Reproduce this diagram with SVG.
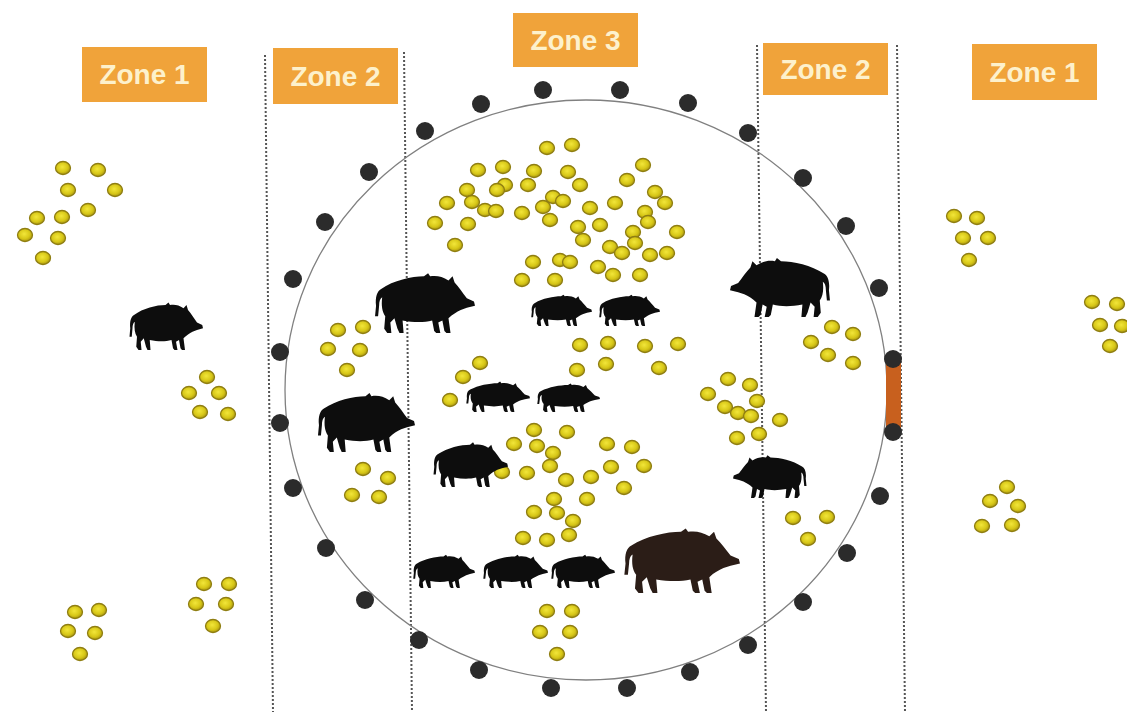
<svg xmlns="http://www.w3.org/2000/svg" xmlns:xlink="http://www.w3.org/1999/xlink" width="1127" height="712" viewBox="0 0 1127 712">
  <style>
    .zone-box { fill: #F0A33A; }
    .zone-text { fill: #FDF1CC; font-family: "Liberation Sans", Arial, sans-serif; font-weight: bold; font-size: 28px; text-anchor: middle; }
    .divider { stroke: #555; stroke-width: 2; stroke-dasharray: 2 2; fill: none; }
    .fence { fill: none; stroke: #808080; stroke-width: 1.3; }
    .post { fill: #2b2b2b; }
    .gate { fill: #C8601E; }
    .boar { fill: #0d0d0d; }
    .boar-big { fill: #2B1D17; }
  </style>
  <defs>
    <radialGradient id="acornFill" cx="0.45" cy="0.42" r="0.6">
      <stop offset="0" stop-color="#F2E63A"/>
      <stop offset="0.6" stop-color="#D8C818"/>
      <stop offset="1" stop-color="#A89510"/>
    </radialGradient>
    <ellipse id="ac" cx="0" cy="0" rx="7.5" ry="6.5" fill="url(#acornFill)" stroke="#8F7E12" stroke-width="1.3"/>
    <!-- boar silhouette, facing right, 100 x 60 box -->
    <symbol id="boar" viewBox="0 0 100 60" preserveAspectRatio="none">
      <path d="M8,18 C4,20 2,26 3,34 L2,44 L5,44 L6,34 C6,30 7,27 9,26 C8,34 9,40 12,44 L11,56 L14,60 L18,60 L17,50 L21,46 L24,56 L26,60 L30,60 L29,48 C40,50 50,50 58,48 L60,58 L62,60 L66,60 L64,50 L68,48 L70,58 L72,60 L76,60 L74,46 C78,42 82,40 86,38 L92,36 L100,34 L99,30 L92,27 C88,22 84,16 80,12 L78,6 L74,10 C68,6 62,5 56,6 L54,3 L50,6 C38,6 20,10 8,18 Z"/>
    </symbol>
  </defs>

  <rect width="1127" height="712" fill="#ffffff"/>

  <!-- zone dividers -->
  <g id="dividers">
    <line class="divider" x1="265" y1="55" x2="273" y2="712"/>
    <line class="divider" x1="404" y1="52" x2="412" y2="712"/>
    <line class="divider" x1="757" y1="45" x2="766" y2="712"/>
    <line class="divider" x1="897" y1="45" x2="905" y2="712"/>
  </g>

  <!-- enclosure fence with posts and gate -->
  <g id="enclosure">
    <ellipse class="fence" cx="586" cy="390" rx="301" ry="290"/>
    <rect class="gate" x="886" y="362" width="15" height="66"/>
    <g class="post">
      <circle cx="481" cy="104" r="9"/>
      <circle cx="543" cy="90" r="9"/>
      <circle cx="620" cy="90" r="9"/>
      <circle cx="688" cy="103" r="9"/>
      <circle cx="748" cy="133" r="9"/>
      <circle cx="803" cy="178" r="9"/>
      <circle cx="846" cy="226" r="9"/>
      <circle cx="879" cy="288" r="9"/>
      <circle cx="893" cy="359" r="9"/>
      <circle cx="893" cy="432" r="9"/>
      <circle cx="880" cy="496" r="9"/>
      <circle cx="847" cy="553" r="9"/>
      <circle cx="803" cy="602" r="9"/>
      <circle cx="748" cy="645" r="9"/>
      <circle cx="690" cy="672" r="9"/>
      <circle cx="627" cy="688" r="9"/>
      <circle cx="551" cy="688" r="9"/>
      <circle cx="479" cy="670" r="9"/>
      <circle cx="419" cy="640" r="9"/>
      <circle cx="365" cy="600" r="9"/>
      <circle cx="326" cy="548" r="9"/>
      <circle cx="293" cy="488" r="9"/>
      <circle cx="280" cy="423" r="9"/>
      <circle cx="280" cy="352" r="9"/>
      <circle cx="293" cy="279" r="9"/>
      <circle cx="325" cy="222" r="9"/>
      <circle cx="369" cy="172" r="9"/>
      <circle cx="425" cy="131" r="9"/>
    </g>
  </g>

  <!-- zone labels -->
  <g id="zone1-left">
    <rect class="zone-box" x="82" y="47" width="125" height="55"/>
    <text class="zone-text" x="144.5" y="84">Zone 1</text>
  </g>
  <g id="zone2-left">
    <rect class="zone-box" x="273" y="48" width="125" height="56"/>
    <text class="zone-text" x="335.5" y="86">Zone 2</text>
  </g>
  <g id="zone3">
    <rect class="zone-box" x="513" y="13" width="125" height="54"/>
    <text class="zone-text" x="575.5" y="50">Zone 3</text>
  </g>
  <g id="zone2-right">
    <rect class="zone-box" x="763" y="43" width="125" height="52"/>
    <text class="zone-text" x="825.5" y="79">Zone 2</text>
  </g>
  <g id="zone1-right">
    <rect class="zone-box" x="972" y="44" width="125" height="56"/>
    <text class="zone-text" x="1034.5" y="82">Zone 1</text>
  </g>

  <!-- acorns -->
  <g id="acorns">
    <!-- outside, left -->
    <use href="#ac" x="63" y="168"/><use href="#ac" x="98" y="170"/><use href="#ac" x="68" y="190"/>
    <use href="#ac" x="115" y="190"/><use href="#ac" x="88" y="210"/><use href="#ac" x="37" y="218"/>
    <use href="#ac" x="62" y="217"/><use href="#ac" x="25" y="235"/><use href="#ac" x="58" y="238"/>
    <use href="#ac" x="43" y="258"/>
    <use href="#ac" x="207" y="377"/><use href="#ac" x="189" y="393"/><use href="#ac" x="219" y="393"/>
    <use href="#ac" x="200" y="412"/><use href="#ac" x="228" y="414"/>
    <use href="#ac" x="75" y="612"/><use href="#ac" x="99" y="610"/><use href="#ac" x="68" y="631"/>
    <use href="#ac" x="95" y="633"/><use href="#ac" x="80" y="654"/>
    <use href="#ac" x="204" y="584"/><use href="#ac" x="229" y="584"/><use href="#ac" x="196" y="604"/>
    <use href="#ac" x="226" y="604"/><use href="#ac" x="213" y="626"/>
    <!-- zone 2, left -->
    <use href="#ac" x="338" y="330"/><use href="#ac" x="363" y="327"/><use href="#ac" x="328" y="349"/>
    <use href="#ac" x="360" y="350"/><use href="#ac" x="347" y="370"/>
    <use href="#ac" x="363" y="469"/><use href="#ac" x="388" y="478"/><use href="#ac" x="352" y="495"/>
    <use href="#ac" x="379" y="497"/>
    <!-- zone 3, upper heap -->
    <use href="#ac" x="547" y="148"/><use href="#ac" x="572" y="145"/><use href="#ac" x="478" y="170"/>
    <use href="#ac" x="503" y="167"/><use href="#ac" x="534" y="171"/><use href="#ac" x="568" y="172"/>
    <use href="#ac" x="627" y="180"/><use href="#ac" x="643" y="165"/><use href="#ac" x="467" y="190"/>
    <use href="#ac" x="505" y="185"/><use href="#ac" x="497" y="190"/><use href="#ac" x="528" y="185"/>
    <use href="#ac" x="580" y="185"/><use href="#ac" x="655" y="192"/><use href="#ac" x="447" y="203"/>
    <use href="#ac" x="472" y="202"/><use href="#ac" x="485" y="210"/><use href="#ac" x="496" y="211"/>
    <use href="#ac" x="522" y="213"/><use href="#ac" x="543" y="207"/><use href="#ac" x="553" y="197"/>
    <use href="#ac" x="563" y="201"/><use href="#ac" x="550" y="220"/><use href="#ac" x="590" y="208"/>
    <use href="#ac" x="615" y="203"/><use href="#ac" x="645" y="212"/><use href="#ac" x="665" y="203"/>
    <use href="#ac" x="648" y="222"/><use href="#ac" x="435" y="223"/><use href="#ac" x="468" y="224"/>
    <use href="#ac" x="578" y="227"/><use href="#ac" x="600" y="225"/><use href="#ac" x="583" y="240"/>
    <use href="#ac" x="633" y="232"/><use href="#ac" x="635" y="243"/><use href="#ac" x="677" y="232"/>
    <use href="#ac" x="455" y="245"/><use href="#ac" x="610" y="247"/><use href="#ac" x="622" y="253"/>
    <use href="#ac" x="650" y="255"/><use href="#ac" x="667" y="253"/><use href="#ac" x="533" y="262"/>
    <use href="#ac" x="560" y="260"/><use href="#ac" x="570" y="262"/><use href="#ac" x="598" y="267"/>
    <use href="#ac" x="613" y="275"/><use href="#ac" x="640" y="275"/><use href="#ac" x="522" y="280"/>
    <use href="#ac" x="555" y="280"/>
    <!-- zone 3, middle -->
    <use href="#ac" x="580" y="345"/><use href="#ac" x="608" y="343"/><use href="#ac" x="645" y="346"/>
    <use href="#ac" x="678" y="344"/><use href="#ac" x="577" y="370"/><use href="#ac" x="606" y="364"/>
    <use href="#ac" x="659" y="368"/>
    <use href="#ac" x="480" y="363"/><use href="#ac" x="463" y="377"/><use href="#ac" x="450" y="400"/>
    <!-- zone 3, lower heap -->
    <use href="#ac" x="534" y="430"/><use href="#ac" x="567" y="432"/><use href="#ac" x="514" y="444"/>
    <use href="#ac" x="537" y="446"/><use href="#ac" x="553" y="453"/><use href="#ac" x="607" y="444"/>
    <use href="#ac" x="632" y="447"/><use href="#ac" x="502" y="472"/><use href="#ac" x="527" y="473"/>
    <use href="#ac" x="550" y="466"/><use href="#ac" x="566" y="480"/><use href="#ac" x="591" y="477"/>
    <use href="#ac" x="611" y="467"/><use href="#ac" x="644" y="466"/><use href="#ac" x="624" y="488"/>
    <use href="#ac" x="554" y="499"/><use href="#ac" x="587" y="499"/><use href="#ac" x="534" y="512"/>
    <use href="#ac" x="557" y="513"/><use href="#ac" x="573" y="521"/><use href="#ac" x="569" y="535"/>
    <use href="#ac" x="523" y="538"/><use href="#ac" x="547" y="540"/>
    <use href="#ac" x="547" y="611"/><use href="#ac" x="572" y="611"/><use href="#ac" x="540" y="632"/>
    <use href="#ac" x="570" y="632"/><use href="#ac" x="557" y="654"/>
    <!-- zone 2, right -->
    <use href="#ac" x="728" y="379"/><use href="#ac" x="750" y="385"/><use href="#ac" x="708" y="394"/>
    <use href="#ac" x="757" y="401"/><use href="#ac" x="725" y="407"/><use href="#ac" x="738" y="413"/>
    <use href="#ac" x="751" y="416"/><use href="#ac" x="780" y="420"/><use href="#ac" x="737" y="438"/>
    <use href="#ac" x="759" y="434"/>
    <use href="#ac" x="832" y="327"/><use href="#ac" x="853" y="334"/><use href="#ac" x="811" y="342"/>
    <use href="#ac" x="828" y="355"/><use href="#ac" x="853" y="363"/>
    <use href="#ac" x="793" y="518"/><use href="#ac" x="827" y="517"/><use href="#ac" x="808" y="539"/>
    <!-- outside, right -->
    <use href="#ac" x="954" y="216"/><use href="#ac" x="977" y="218"/><use href="#ac" x="963" y="238"/>
    <use href="#ac" x="988" y="238"/><use href="#ac" x="969" y="260"/>
    <use href="#ac" x="1092" y="302"/><use href="#ac" x="1117" y="304"/><use href="#ac" x="1100" y="325"/>
    <use href="#ac" x="1122" y="326"/><use href="#ac" x="1110" y="346"/>
    <use href="#ac" x="1007" y="487"/><use href="#ac" x="990" y="501"/><use href="#ac" x="1018" y="506"/>
    <use href="#ac" x="982" y="526"/><use href="#ac" x="1012" y="525"/>
  </g>

  <!-- wild boars -->
  <g id="boars">
    <use class="boar" href="#boar" x="128" y="300" width="75" height="50"/>
    <use class="boar" href="#boar" x="373" y="270" width="102" height="63"/>
    <use class="boar" href="#boar" x="316" y="390" width="99" height="62"/>
    <use class="boar" href="#boar" x="432" y="440" width="76" height="47"/>
    <use class="boar" href="#boar" x="530" y="293" width="62" height="33"/>
    <use class="boar" href="#boar" x="598" y="293" width="62" height="33"/>
    <use class="boar" href="#boar" x="465" y="380" width="65" height="32"/>
    <use class="boar" href="#boar" x="536" y="382" width="64" height="30"/>
    <use class="boar" href="#boar" x="412" y="553" width="63" height="35"/>
    <use class="boar" href="#boar" x="482" y="553" width="66" height="35"/>
    <use class="boar" href="#boar" x="550" y="553" width="65" height="35"/>
    <use class="boar-big" href="#boar" x="622" y="525" width="118" height="68"/>
    <!-- facing left -->
    <use class="boar" href="#boar" transform="translate(832,255) scale(-1,1)" width="102" height="62"/>
    <use class="boar" href="#boar" transform="translate(808,453) scale(-1,1)" width="75" height="45"/>
  </g>
</svg>
